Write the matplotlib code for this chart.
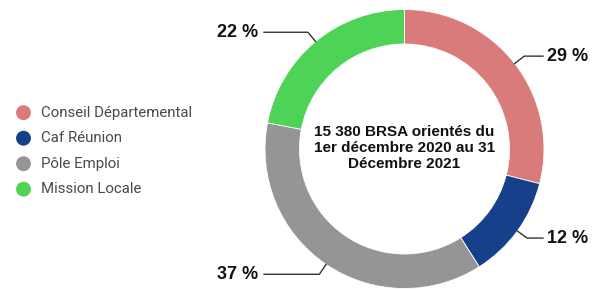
import numpy as np
import matplotlib
matplotlib.use('Agg')
import matplotlib.pyplot as plt

labels = ['Conseil Départemental', 'Caf Réunion', 'Pôle Emploi', 'Mission Locale']
values = [29, 12, 37, 22]
colors = ['#DA7B7B', '#17408B', '#959595', '#4ED356']
center_text = '15 380 BRSA orientés du\n1er décembre 2020 au 31\nDécembre 2021'

W, H = 605, 289
fig = plt.figure(figsize=(W / 100, H / 100), dpi=100)
ax = fig.add_axes([0, 0, 1, 1])

cx, cy = 404.5, H - 149
R = 139.5
ring = 34.5

wedges, _ = ax.pie(values, colors=colors, startangle=90, counterclock=False,
                   radius=R, center=(cx, cy), frame=True,
                   wedgeprops=dict(width=ring, edgecolor='white', linewidth=0.6))
ax.set_xlim(0, W)
ax.set_ylim(0, H)
ax.axis('off')

# percentage labels with elbow lines
for w, v in zip(wedges, values):
    ang = np.deg2rad((w.theta1 + w.theta2) / 2)
    c, s = np.cos(ang), np.sin(ang)
    x0, y0 = cx + R * c, cy + R * s
    x1, y1 = cx + (R + 12) * c, cy + (R + 12) * s
    x2 = 543 if c > 0 else 264
    ax.plot([x0, x1, x2], [y0, y1, y1], color='#333333', lw=1)
    if c > 0:
        ax.text(x2 + 4, y1, f'{v} %', ha='left', va='center', fontsize=13,
                fontweight='bold', family='Liberation Sans', color='#111111')
    else:
        ax.text(x2 - 6, y1, f'{v} %', ha='right', va='center', fontsize=13,
                fontweight='bold', family='Liberation Sans', color='#111111')

ax.text(cx, cy + 1, center_text, ha='center', va='center', fontsize=11,
        fontweight='bold', family='Liberation Sans', linespacing=1.15,
        color='#111111')

# legend
for i, (lab, col) in enumerate(zip(labels, colors)):
    y = H - (112.7 + i * 25.5)
    ax.scatter([23.5], [y], s=115, color=col, edgecolors='none')
    ax.text(41, y, lab, ha='left', va='center', fontsize=10.8,
            family='Roboto', color='#4a4a4a')

fig.savefig('out.png', dpi=100)
